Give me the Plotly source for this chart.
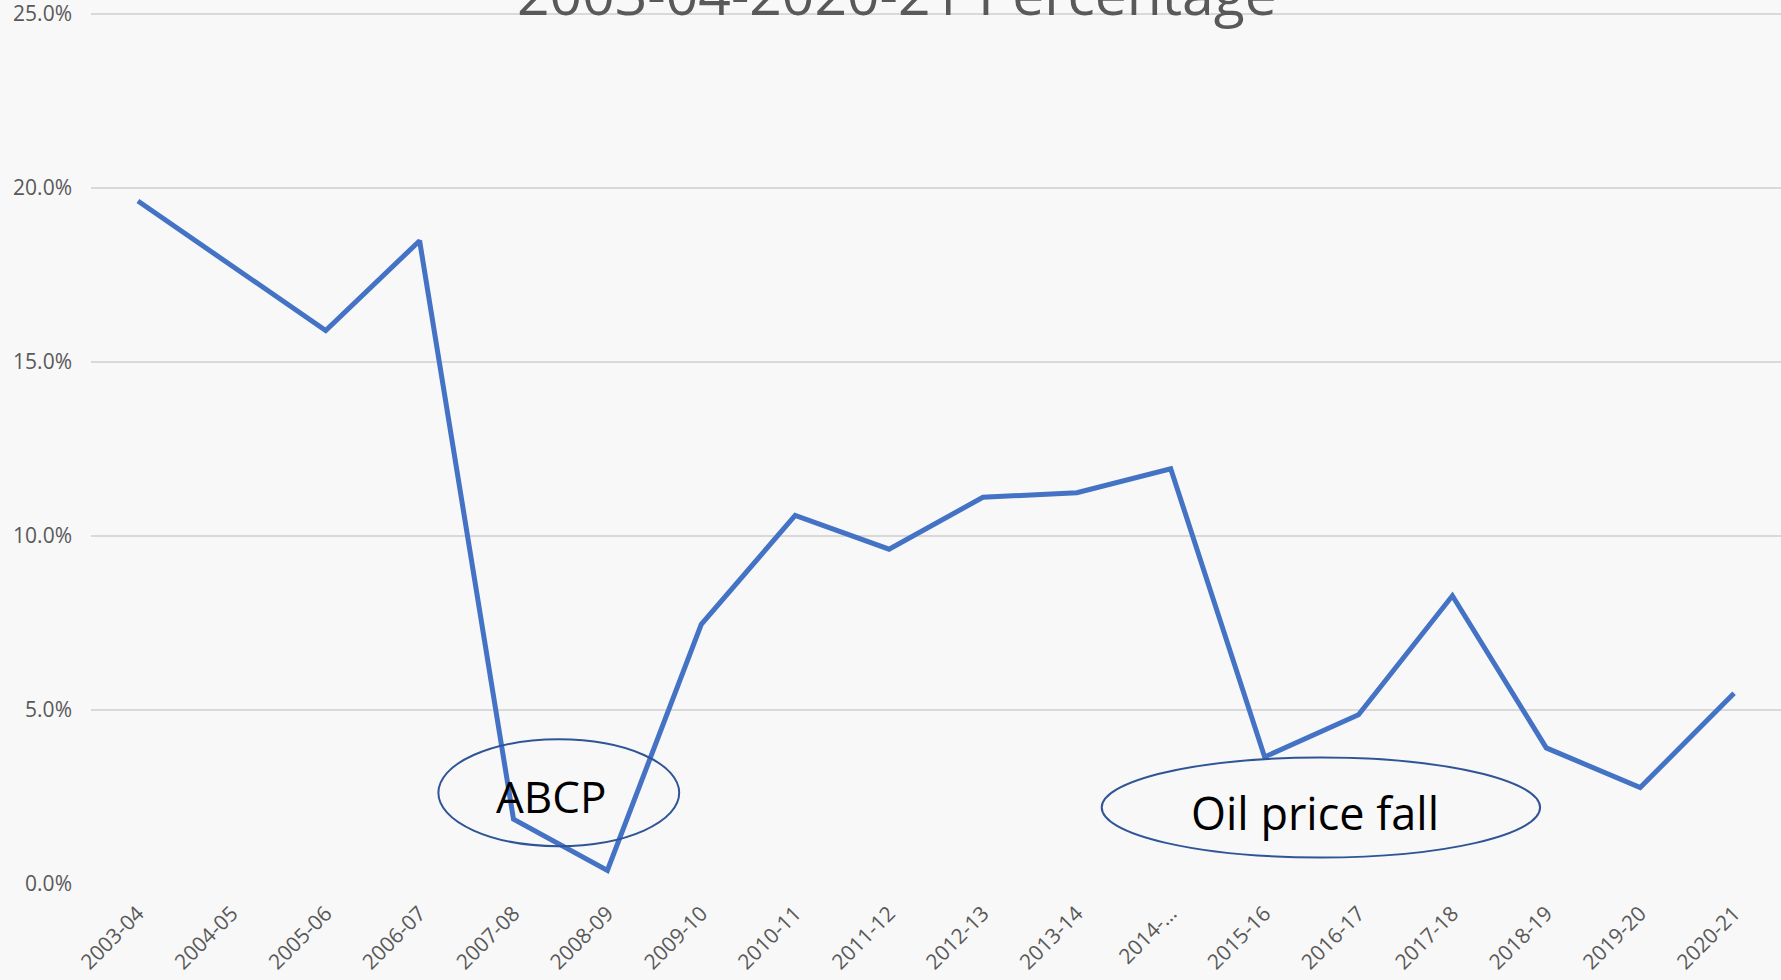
import plotly.graph_objects as go

categories = ["2003-04", "2004-05", "2005-06", "2006-07", "2007-08", "2008-09",
              "2009-10", "2010-11", "2011-12", "2012-13", "2013-14", "2014-15",
              "2015-16", "2016-17", "2017-18", "2018-19", "2019-20", "2020-21"]
tick_labels = ["2003-04", "2004-05", "2005-06", "2006-07", "2007-08", "2008-09",
               "2009-10", "2010-11", "2011-12", "2012-13", "2013-14", "2014-…",
               "2015-16", "2016-17", "2017-18", "2018-19", "2019-20", "2020-21"]
percentages = [0.1962, 0.1776, 0.1590, 0.1848, 0.0186, 0.0039,
               0.0746, 0.1059, 0.0962, 0.1111, 0.1124, 0.1193,
               0.0365, 0.0486, 0.0828, 0.0391, 0.0277, 0.0548]
y_ticks = [0.0, 0.05, 0.10, 0.15, 0.20, 0.25]
title_text = "2003-04-2020-21 Percentage"
note_labels = ["ABCP", "Oil price fall"]

LINE = "#4472C4"
ELL = "#2F5597"
GRAY = "#595959"
BG = "#F8F8F8"
FONT = "Open Sans"

fig = go.Figure()
fig.add_trace(go.Scatter(
    x=categories, y=percentages, mode="lines",
    line=dict(color=LINE, width=5),
    hoverinfo="x+y", showlegend=False,
))

# ellipses (category-index / data coordinates)
fig.add_shape(type="circle", xref="x", yref="y",
              x0=3.20, x1=5.765, y0=0.01086, y1=0.04155,
              line=dict(color=ELL, width=2), fillcolor="rgba(0,0,0,0)")
fig.add_shape(type="circle", xref="x", yref="y",
              x0=10.265, x1=14.934, y0=0.00761, y1=0.03632,
              line=dict(color=ELL, width=2), fillcolor="rgba(0,0,0,0)")

fig.add_annotation(text=note_labels[0], xref="x", yref="y", x=4.404, y=0.0253,
                   showarrow=False, xanchor="center", yanchor="middle",
                   font=dict(family=FONT, size=44, color="#000000"))
fig.add_annotation(text=note_labels[1], xref="x", yref="y", x=12.536, y=0.0206,
                   showarrow=False, xanchor="center", yanchor="middle",
                   font=dict(family=FONT, size=45, color="#000000"))

fig.add_annotation(text=title_text, xref="paper", yref="paper", x=0.477, y=0.9816,
                   yshift=-7,
                   showarrow=False, xanchor="center", yanchor="bottom",
                   font=dict(family=FONT, size=57, color=GRAY))

fig.update_layout(
    width=1781, height=980,
    margin=dict(l=91, r=0, t=11, b=96),
    paper_bgcolor=BG, plot_bgcolor=BG,
    font=dict(family=FONT, color=GRAY),
    xaxis=dict(type="category", range=[-0.5, 17.5], tickmode="array",
               tickvals=categories, ticktext=tick_labels, tickangle=-45,
               showgrid=False, zeroline=False, showline=False, ticks="",
               tickfont=dict(family=FONT, size=21, color=GRAY),
               ticklabelstandoff=12),
    yaxis=dict(range=[0, 0.2508], tickmode="array", tickvals=y_ticks,
               tickformat=".1%", showgrid=True, gridcolor="#D9D9D9", gridwidth=2,
               zeroline=False, showline=False, ticks="",
               ticklabeloverflow="allow",
               tickfont=dict(family=FONT, size=21, color=GRAY),
               ticklabelstandoff=18),
)

fig.write_html("out.html", config={"displayModeBar": False},
               post_script="document.body.style.margin='0';document.body.style.overflow='hidden';")
